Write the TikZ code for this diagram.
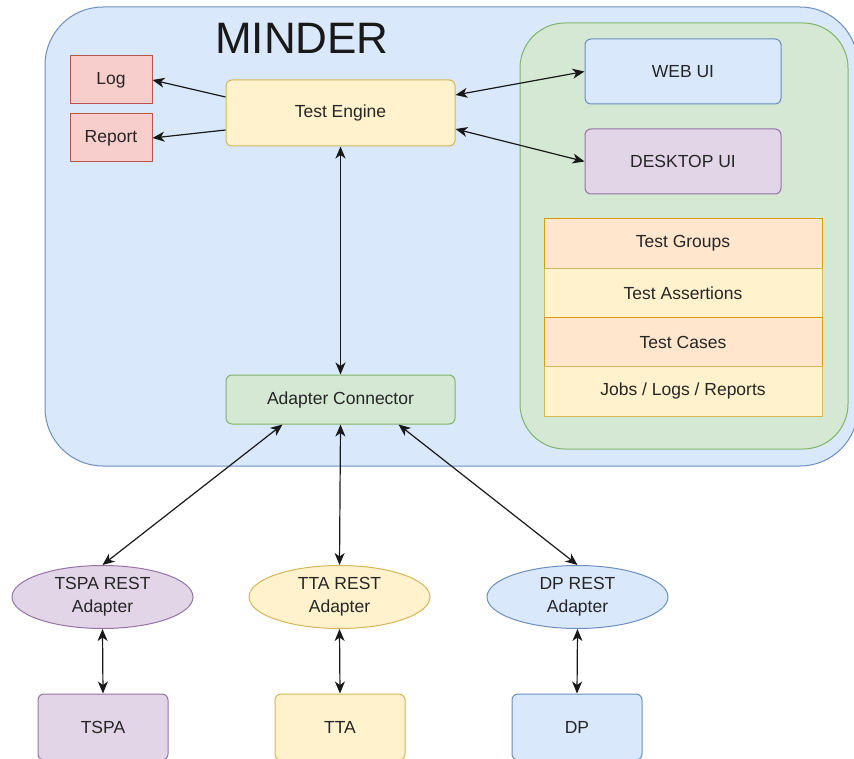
\documentclass[tikz,border=0pt]{standalone}
\usepackage{fontspec}
\setmainfont{Liberation Sans}
\usetikzlibrary{shapes.geometric, arrows.meta}
\definecolor{blueF}{HTML}{DAE8FC}
\definecolor{blueD}{HTML}{6C8EBF}
\definecolor{greenF}{HTML}{D5E8D4}
\definecolor{greenD}{HTML}{82B366}
\definecolor{redF}{HTML}{F8CECC}
\definecolor{redD}{HTML}{B85450}
\definecolor{yelF}{HTML}{FFF2CC}
\definecolor{yelD}{HTML}{D6B656}
\definecolor{orgF}{HTML}{FFE6CC}
\definecolor{orgD}{HTML}{D79B00}
\definecolor{purF}{HTML}{E1D5E7}
\definecolor{purD}{HTML}{9673A6}
\begin{document}
\begin{tikzpicture}[x=1pt, y=-1pt, >={Stealth[length=12pt, width=10pt, inset=3.5pt]}]
    \tikzstyle{box}=[draw, rounded corners=6pt, inner sep=0pt, line width=1pt,
                     text=black!85, font=\fontsize{17.5}{20}\selectfont]
    \tikzstyle{cell}=[box, rounded corners=0pt, minimum width=278pt, minimum height=49.25pt]
    \tikzstyle{adapter}=[box, ellipse, minimum width=181pt, minimum height=63pt,
                         align=center, font=\fontsize{17.5}{23}\selectfont]
    \tikzstyle{link}=[<->, line width=1.2pt, black!90]

    \useasboundingbox (0,0) rectangle (854,759);

    % the two containers
    \draw[fill=blueF, draw=blueD, line width=1pt, rounded corners=58pt] (45,7) rectangle (858,466);
    \draw[fill=greenF, draw=greenD, line width=1pt, rounded corners=45pt] (520,23) rectangle (848,449);
    \node[text=black!90, font=\fontsize{44}{50}\selectfont] (minder) at (302,38) {MINDER};

    \node[box, rounded corners=0pt, fill=redF, draw=redD, minimum width=82pt, minimum height=48pt] (log) at (111,80) {Log};
    \node[box, rounded corners=0pt, fill=redF, draw=redD, minimum width=82pt, minimum height=48pt] (report) at (111,138) {Report};
    \node[box, fill=yelF, draw=yelD, minimum width=229pt, minimum height=66pt] (engine) at (340.5,113) {Test Engine};
    \node[box, fill=blueF, draw=blueD, minimum width=196pt, minimum height=65pt] (webui) at (683,71.5) {WEB UI};
    \node[box, fill=purF, draw=purD, minimum width=196pt, minimum height=65pt] (deskui) at (683,161.5) {DESKTOP UI};

    \node[cell, fill=orgF, draw=orgD] (groups) at (683,243.6) {Test Groups};
    \node[cell, fill=yelF, draw=yelD] (assert) at (683,292.9) {Test Assertions};
    \node[cell, fill=orgF, draw=orgD] (cases) at (683,342.1) {Test Cases};
    \node[cell, fill=yelF, draw=yelD] (jobs) at (683,391.4) {Jobs / Logs / Reports};

    \node[box, fill=greenF, draw=greenD, minimum width=229pt, minimum height=49pt] (conn) at (340.5,399.5) {Adapter Connector};

    \node[adapter, fill=purF, draw=purD] (tspaad) at (102.5,597) {TSPA REST\\Adapter};
    \node[adapter, fill=yelF, draw=yelD] (ttaad) at (339.5,597) {TTA REST\\Adapter};
    \node[adapter, fill=blueF, draw=blueD] (dpad) at (577.5,597) {DP REST\\Adapter};

    \node[box, fill=purF, draw=purD, minimum width=130pt, minimum height=66pt] (tspa) at (103,727) {TSPA};
    \node[box, fill=yelF, draw=yelD, minimum width=130pt, minimum height=66pt] (tta) at (340,727) {TTA};
    \node[box, fill=blueF, draw=blueD, minimum width=130pt, minimum height=66pt] (dp) at (577,727) {DP};

    \draw[link, <-] (log.east) -- ([yshift=16pt]engine.west);
    \draw[link, <-] (report.east) -- ([yshift=-17pt]engine.west);
    \draw[link] ([yshift=18pt]engine.east) -- (webui.west);
    \draw[link] ([yshift=-16pt]engine.east) -- (deskui.west);
    \draw[link] (engine.south) -- (conn.north);
    \draw[link] ([xshift=-58pt]conn.south) -- (tspaad.north);
    \draw[link] (conn.south) -- (ttaad.north);
    \draw[link] ([xshift=58pt]conn.south) -- (dpad.north);
    \draw[link] (tspaad.south) -- (tspa.north);
    \draw[link] (ttaad.south) -- (tta.north);
    \draw[link] (dpad.south) -- (dp.north);
\end{tikzpicture}
\end{document}
